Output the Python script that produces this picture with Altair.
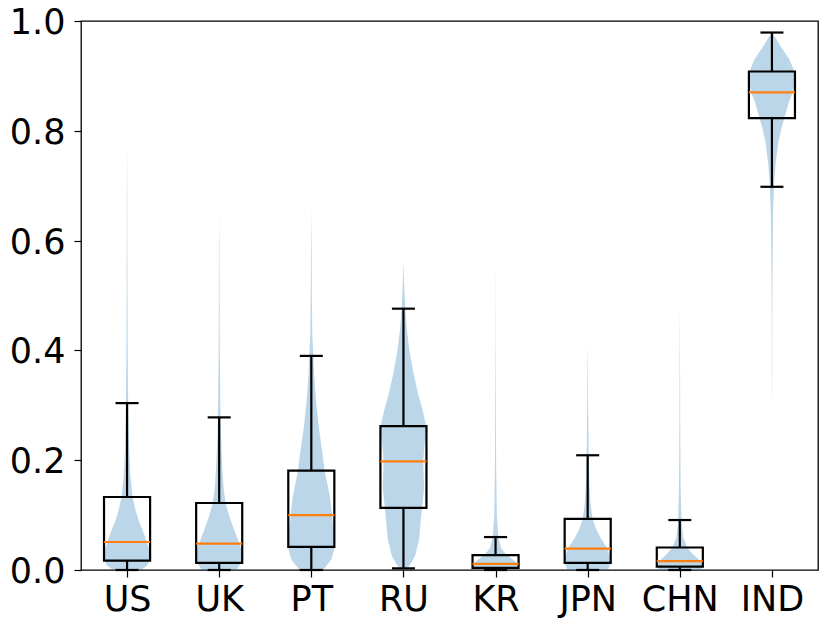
import altair as alt
import pandas as pd

CATS = ["US", "UK", "PT", "RU", "KR", "JPN", "CHN", "IND"]

# box-plot statistics
Q1 = [0.017, 0.013, 0.042, 0.113, 0.004, 0.013, 0.006, 0.823]
MED = [0.051, 0.048, 0.100, 0.198, 0.011, 0.039, 0.016, 0.870]
Q3 = [0.133, 0.122, 0.181, 0.262, 0.027, 0.093, 0.041, 0.908]
WLO = [0.0, 0.0, 0.0, 0.003, 0.0, 0.0, 0.0, 0.698]
WHI = [0.304, 0.278, 0.390, 0.476, 0.060, 0.209, 0.091, 0.979]

# violin outlines: value levels and half widths (x units)
US_Y = [0, 0.008, 0.02, 0.033, 0.05, 0.063, 0.08, 0.093, 0.11, 0.133, 0.17, 0.22, 0.3, 0.4, 0.5, 0.6, 0.7, 0.78]
US_W = [0.15, 0.22, 0.245, 0.25, 0.215, 0.19, 0.15, 0.12, 0.09, 0.06, 0.037, 0.022, 0.012, 0.007, 0.005, 0.003, 0.002, 0.0]
UK_Y = [0, 0.014, 0.033, 0.048, 0.074, 0.098, 0.12, 0.15, 0.2, 0.25, 0.3, 0.4, 0.5, 0.6, 0.647]
UK_W = [0.19, 0.24, 0.25, 0.22, 0.16, 0.11, 0.072, 0.047, 0.03, 0.018, 0.012, 0.006, 0.004, 0.002, 0.0]
PT_Y = [0, 0.02, 0.04, 0.07, 0.1, 0.135, 0.181, 0.22, 0.262, 0.31, 0.352, 0.39, 0.43, 0.5, 0.6, 0.66]
PT_W = [0.13, 0.22, 0.25, 0.24, 0.225, 0.2, 0.145, 0.115, 0.08, 0.05, 0.032, 0.022, 0.011, 0.006, 0.003, 0.0]
RU_Y = [0, 0.012, 0.026, 0.056, 0.111, 0.15, 0.198, 0.23, 0.26, 0.29, 0.32, 0.36, 0.4, 0.44, 0.48, 0.52, 0.56]
RU_W = [0.03, 0.08, 0.127, 0.17, 0.2, 0.225, 0.215, 0.23, 0.25, 0.21, 0.16, 0.107, 0.065, 0.036, 0.018, 0.008, 0.0]
KR_Y = [0, 0.01, 0.02, 0.03, 0.04, 0.06, 0.1, 0.2, 0.3, 0.4, 0.5, 0.57]
KR_W = [0.22, 0.25, 0.18, 0.107, 0.06, 0.03, 0.014, 0.006, 0.004, 0.002, 0.001, 0.0]
JPN_Y = [0, 0.01, 0.02, 0.039, 0.057, 0.075, 0.093, 0.12, 0.16, 0.21, 0.3, 0.38, 0.41]
JPN_W = [0.22, 0.245, 0.25, 0.215, 0.145, 0.09, 0.054, 0.032, 0.018, 0.011, 0.005, 0.002, 0.0]
CHN_Y = [0, 0.01, 0.02, 0.03, 0.041, 0.06, 0.09, 0.15, 0.25, 0.35, 0.45, 0.49]
CHN_W = [0.23, 0.25, 0.2, 0.135, 0.08, 0.036, 0.018, 0.009, 0.005, 0.003, 0.001, 0.0]
IND_Y = [0.30, 0.35, 0.45, 0.55, 0.65, 0.70, 0.74, 0.78, 0.808, 0.823, 0.85, 0.87, 0.89, 0.91, 0.93, 0.953, 0.98]
IND_W = [0.0, 0.002, 0.003, 0.006, 0.012, 0.022, 0.04, 0.07, 0.108, 0.135, 0.18, 0.225, 0.25, 0.24, 0.19, 0.098, 0.0]

VIOLINS = [(US_Y, US_W), (UK_Y, UK_W), (PT_Y, PT_W), (RU_Y, RU_W),
           (KR_Y, KR_W), (JPN_Y, JPN_W), (CHN_Y, CHN_W), (IND_Y, IND_W)]

BOX_W = 0.5
CAP_W = 0.25
LW = 2.2

# each violin as a closed outline: up the left side, down the right side
rows = []
for i, (ys, ws) in enumerate(VIOLINS):
    pos = i + 1
    seq = 0
    for y, w in zip(ys, ws):
        rows.append({"cat": CATS[i], "y": y, "x": pos - w, "seq": seq})
        seq += 1
    for y, w in zip(reversed(ys), reversed(ws)):
        rows.append({"cat": CATS[i], "y": y, "x": pos + w, "seq": seq})
        seq += 1
vdf = pd.DataFrame(rows)

brows = []
for i in range(len(CATS)):
    pos = i + 1
    brows.append({
        "cat": CATS[i], "pos": pos,
        "bl": pos - BOX_W / 2, "br": pos + BOX_W / 2,
        "cl": pos - CAP_W / 2, "cr": pos + CAP_W / 2,
        "q1": Q1[i], "med": MED[i], "q3": Q3[i], "wlo": WLO[i], "whi": WHI[i],
    })
bdf = pd.DataFrame(brows)

xscale = alt.Scale(domain=[0.5, 8.5], nice=False, zero=False)
yscale = alt.Scale(domain=[0, 1], nice=False)

label_expr = "[" + ",".join("'%s'" % c for c in CATS) + "][datum.value - 1]"

xaxis = alt.Axis(values=list(range(1, len(CATS) + 1)), labelExpr=label_expr, title=None,
                 labelPadding=5, labelFlush=False)
yaxis = alt.Axis(values=[0, 0.2, 0.4, 0.6, 0.8, 1.0], format=".1f", title=None,
                 labelPadding=9, labelOffset=1.5, labelFlush=False)

violin = alt.Chart(vdf).mark_line(fill="#1f77b4", fillOpacity=0.3, strokeOpacity=0,
                                  strokeWidth=0).encode(
    y=alt.Y("y:Q", scale=yscale, axis=yaxis),
    x=alt.X("x:Q", scale=xscale, axis=xaxis),
    detail="cat:N",
    order="seq:Q",
)

base = alt.Chart(bdf)

box = base.mark_rect(fill="white", fillOpacity=0, stroke="black", strokeWidth=LW).encode(
    x=alt.X("bl:Q", scale=xscale), x2="br:Q",
    y=alt.Y("q1:Q", scale=yscale), y2="q3:Q",
)
whisk_hi = base.mark_rule(color="black", strokeWidth=LW).encode(
    x=alt.X("pos:Q", scale=xscale), y=alt.Y("q3:Q", scale=yscale), y2="whi:Q")
whisk_lo = base.mark_rule(color="black", strokeWidth=LW).encode(
    x=alt.X("pos:Q", scale=xscale), y=alt.Y("wlo:Q", scale=yscale), y2="q1:Q")
cap_hi = base.mark_rule(color="black", strokeWidth=LW).encode(
    x=alt.X("cl:Q", scale=xscale), x2="cr:Q", y=alt.Y("whi:Q", scale=yscale))
cap_lo = base.mark_rule(color="black", strokeWidth=LW).encode(
    x=alt.X("cl:Q", scale=xscale), x2="cr:Q", y=alt.Y("wlo:Q", scale=yscale))
median = base.mark_rule(color="#ff7f0e", strokeWidth=LW).encode(
    x=alt.X("bl:Q", scale=xscale), x2="br:Q", y=alt.Y("med:Q", scale=yscale))

chart = alt.layer(violin, box, whisk_lo, whisk_hi, cap_lo, cap_hi, median).properties(
    width=737, height=549,
    background="white",
    autosize=alt.AutoSizeParams(type="none"),
    padding={"left": 73, "top": 13, "right": 4, "bottom": 50},
).configure_view(
    stroke="black", strokeWidth=1.3
).configure_axis(
    labelFont="DejaVu Sans", labelFontSize=35, labelColor="black",
    tickColor="black", tickSize=7, tickWidth=1.2, domain=False, grid=False,
)

chart.save("out.html", embed_options={"renderer": "svg", "actions": False})
